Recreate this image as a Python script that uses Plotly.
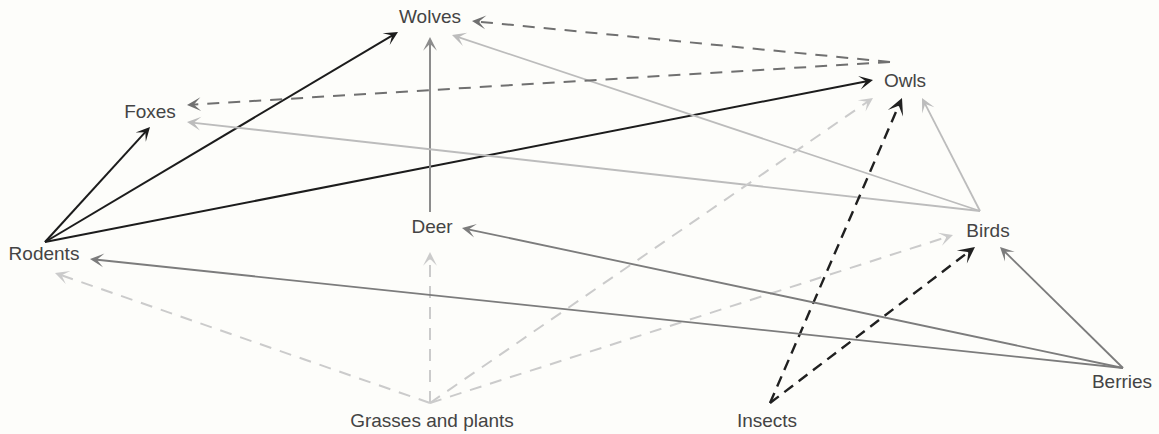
import math
import plotly.graph_objects as go

# ---- data: food web ----
nodes = ["Wolves", "Owls", "Foxes", "Deer", "Birds", "Rodents",
         "Berries", "Grasses and plants", "Insects"]

# (prey -> predator) links
edge_source = ["Rodents", "Rodents", "Rodents", "Deer", "Birds", "Birds", "Birds",
               "Owls", "Owls", "Grasses and plants", "Grasses and plants",
               "Grasses and plants", "Grasses and plants", "Insects", "Insects",
               "Berries", "Berries", "Berries"]
edge_target = ["Wolves", "Foxes", "Owls", "Wolves", "Wolves", "Foxes", "Owls",
               "Wolves", "Foxes", "Rodents", "Deer", "Owls", "Birds", "Owls", "Birds",
               "Birds", "Deer", "Rodents"]

# ---- layout (diagram coordinates, pixels) ----
label_x = [430, 905, 150, 432, 988, 44, 1122, 432, 767]
label_y = [18, 82, 113, 228, 232, 255, 383, 422, 422]
hub_x = [430, 890, 150, 430, 980, 45, 1123, 430, 770]
hub_y = [18, 62, 113, 212, 211, 242, 368, 403, 403]
tip_x = [398, 150, 873, 430, 452, 187, 922, 472, 187, 55, 430, 873, 953, 902, 975, 1000, 462, 90]
tip_y = [32, 127, 80, 37, 35, 122, 98, 21, 105, 273, 252, 98, 235, 98, 247, 247, 228, 259]

styles = {
    "Rodents": dict(color="#1c1c1c", width=2.0, dash="solid"),
    "Deer": dict(color="#8c8c8c", width=2.0, dash="solid"),
    "Birds": dict(color="#bcbcbc", width=1.8, dash="solid"),
    "Owls": dict(color="#707070", width=2.0, dash="12px,9px"),
    "Grasses and plants": dict(color="#cbcbcb", width=2.0, dash="12px,9px"),
    "Insects": dict(color="#202020", width=2.4, dash="11px,7px"),
    "Berries": dict(color="#7c7c7c", width=1.8, dash="solid"),
}

fig = go.Figure()
annotations = []
for i, (s, t) in enumerate(zip(edge_source, edge_target)):
    si = nodes.index(s)
    x0, y0 = hub_x[si], hub_y[si]
    x1, y1 = tip_x[i], tip_y[i]
    dx, dy = x1 - x0, y1 - y0
    L = math.hypot(dx, dy)
    ux, uy = dx / L, dy / L
    st = styles[s]
    fig.add_trace(go.Scatter(
        x=[x0, x1 - ux * 5], y=[y0, y1 - uy * 5], mode="lines",
        line=dict(color=st["color"], width=st["width"], dash=st["dash"]),
        hoverinfo="skip", showlegend=False))
    annotations.append(dict(
        x=x1, y=y1, ax=x1 - ux * 9, ay=y1 - uy * 9,
        xref="x", yref="y", axref="x", ayref="y",
        text="", showarrow=True, arrowhead=3, arrowsize=1.15,
        arrowwidth=st["width"] if st["width"] >= 2 else 2.0,
        arrowcolor=st["color"], standoff=0, startstandoff=0))

fig.add_trace(go.Scatter(
    x=label_x, y=label_y, mode="text", text=nodes,
    textposition="middle center",
    textfont=dict(family="Liberation Sans, Arial, sans-serif", size=19, color="#444444"),
    hoverinfo="skip", showlegend=False))

fig.update_layout(
    width=1159, height=434,
    margin=dict(l=0, r=0, t=0, b=0),
    paper_bgcolor="#fdfdfa", plot_bgcolor="#fdfdfa",
    xaxis=dict(range=[0, 1159], visible=False, fixedrange=True),
    yaxis=dict(range=[434, 0], visible=False, fixedrange=True),
    annotations=annotations,
)

fig.write_html(
    "out.html",
    config={"displayModeBar": False},
    post_script="document.body.style.margin='0px';document.body.style.padding='0px';"
                "document.body.style.overflow='hidden';",
)
